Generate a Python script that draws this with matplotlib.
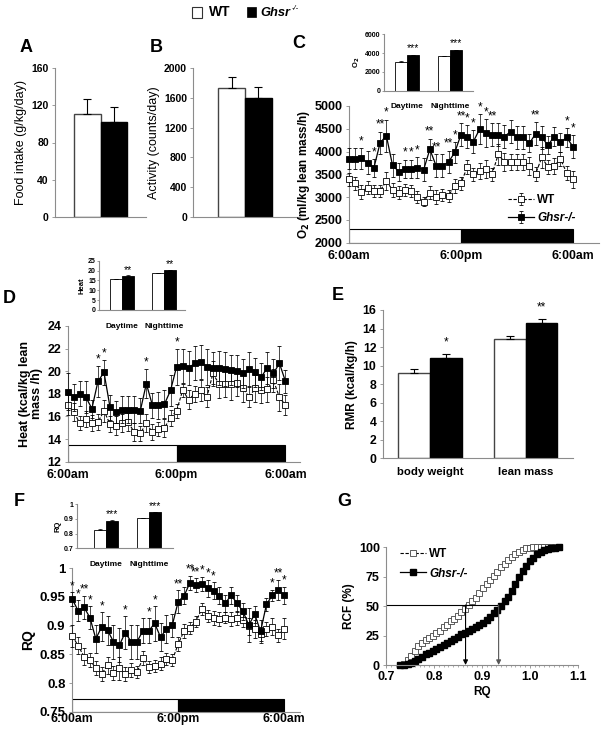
import numpy as np
import matplotlib
matplotlib.use('Agg')
import matplotlib.pyplot as plt
from matplotlib.patches import Rectangle
from matplotlib.ticker import MultipleLocator

plt.rcParams['font.family'] = ['Liberation Sans', 'DejaVu Sans']
plt.rcParams['font.weight'] = 'bold'

W, H = 607, 733

# ---- data ----
# A / B: daily totals (WT, Ghsr-/-)
food_mean = [110, 102]
food_err = [16, 16]
activity_mean = [1724, 1590]
activity_err = [156, 156]

# time points: 37 samples, 6:00am -> 6:00am (40 min apart)
time_labels = ['6:00am', '6:00pm', '6:00am']
time_label_idx = [0, 18, 36]
light_start, dark_start, dark_end = 0, 18, 36

# C: O2 consumption
o2_wt = [3390, 3300, 3120, 3210, 3130, 3140, 3350, 3160, 3100, 3150, 3130, 3000,
         2900, 3100, 3000, 3040, 3030, 3250, 3300, 3660, 3500, 3570, 3620, 3500,
         3940, 3770, 3770, 3770, 3770, 3680, 3510, 3870, 3660, 3680, 3840, 3530, 3390]
o2_wt_err = [150, 150, 150, 150, 130, 130, 200, 150, 150, 130, 130, 130, 100, 150,
             150, 130, 130, 150, 150, 150, 150, 180, 200, 150, 230, 200, 180, 180,
             180, 200, 150, 220, 150, 180, 150, 150, 180]
o2_ko = [3840, 3840, 3850, 3755, 3640, 4190, 4350, 3700, 3560, 3620, 3620, 3650,
         3600, 4050, 3690, 3690, 3770, 3980, 4370, 4330, 4220, 4490, 4410, 4370,
         4370, 4330, 4440, 4310, 4310, 4180, 4390, 4310, 4140, 4330, 4200, 4310, 4110]
o2_ko_err = [230, 230, 230, 250, 200, 250, 350, 250, 200, 200, 200, 230, 250, 230,
             250, 250, 250, 230, 250, 250, 250, 330, 300, 250, 250, 250, 250, 250,
             250, 200, 250, 250, 200, 200, 200, 200, 250]
o2_stars = ['', '', '*', '', '*', '**', '*', '', '', '*', '*', '*', '', '**', '**', '',
            '**', '*', '**', '*', '*', '*', '*', '**', '', '', '', '', '', '', '**',
            '', '', '', '', '*', '*']
o2_period = [[3100, 3780], [3700, 4330]]   # daytime / nighttime: WT, Ghsr
o2_period_err = [[40, 40], [30, 30]]
o2_period_stars = ['***', '***']

# D: heat
heat_wt = [17.0, 16.4, 15.4, 15.8, 15.4, 15.5, 16.5, 15.3, 15.2, 15.4, 15.5, 14.6,
           14.5, 15.4, 14.6, 14.9, 15.0, 15.9, 16.5, 18.3, 17.5, 18.0, 18.3, 17.7,
           19.8, 18.9, 18.9, 18.9, 19.0, 18.5, 17.7, 18.5, 18.3, 18.4, 19.2, 17.7, 17.0]
heat_wt_err = [0.9, 0.8, 0.6, 0.7, 0.7, 0.7, 1.0, 0.7, 0.8, 0.8, 0.8, 0.8, 0.7,
               0.8, 0.7, 0.6, 0.8, 0.7, 0.6, 0.6, 0.8, 0.7, 0.9, 0.9, 1.1, 1.3,
               1.2, 1.4, 1.2, 1.2, 0.9, 1.2, 1.1, 1.1, 1.0, 1.2, 0.9]
heat_ko = [18.2, 17.7, 18.0, 17.7, 16.7, 19.1, 19.9, 16.8, 16.4, 16.6, 16.6, 16.6,
           16.5, 18.9, 17.0, 17.0, 17.1, 18.3, 20.4, 20.5, 20.3, 20.7, 20.8, 20.4,
           20.3, 20.3, 20.2, 20.1, 20.0, 19.8, 20.2, 19.9, 19.5, 20.3, 19.8, 20.7, 19.1]
heat_ko_err = [1.6, 1.2, 1.1, 1.4, 0.8, 1.4, 1.1, 1.1, 1.0, 1.2, 1.2, 1.2, 1.1,
               1.3, 1.1, 1.2, 1.2, 1.4, 1.6, 1.5, 1.5, 1.5, 1.5, 1.6, 1.4, 1.5,
               1.5, 1.3, 1.4, 1.3, 1.5, 1.3, 1.2, 1.4, 1.3, 1.5, 1.0]
heat_stars = ['', '', '', '', '', '*', '*', '', '', '', '', '', '', '*', '', '', '',
              '', '*', '', '', '', '', '', '', '', '', '', '', '', '', '', '', '', '', '', '']
heat_period = [[15.5, 17.4], [18.6, 20.1]]
heat_period_err = [[0.2, 0.2], [0.2, 0.2]]
heat_period_stars = ['**', '**']

# E: resting metabolic rate
rmr_groups = ['body weight', 'lean mass']
rmr_wt = [9.2, 12.85]
rmr_wt_err = [0.45, 0.35]
rmr_ko = [10.8, 14.55]
rmr_ko_err = [0.45, 0.45]
rmr_stars = ['*', '**']

# F: respiratory quotient
rq_wt = [0.882, 0.865, 0.846, 0.840, 0.826, 0.816, 0.831, 0.817, 0.826, 0.816,
         0.823, 0.819, 0.843, 0.828, 0.830, 0.834, 0.842, 0.840, 0.868, 0.891,
         0.896, 0.907, 0.929, 0.917, 0.914, 0.912, 0.914, 0.912, 0.913, 0.909,
         0.899, 0.894, 0.885, 0.894, 0.898, 0.883, 0.895]
rq_wt_err = [0.02, 0.015, 0.015, 0.012, 0.012, 0.012, 0.015, 0.012, 0.02, 0.012,
             0.012, 0.01, 0.012, 0.01, 0.01, 0.012, 0.01, 0.01, 0.012, 0.012, 0.01,
             0.01, 0.01, 0.01, 0.012, 0.012, 0.01, 0.012, 0.012, 0.012, 0.015,
             0.015, 0.012, 0.012, 0.015, 0.012, 0.018]
rq_ko = [0.946, 0.926, 0.932, 0.914, 0.877, 0.898, 0.892, 0.872, 0.866, 0.888,
         0.872, 0.872, 0.891, 0.891, 0.904, 0.880, 0.894, 0.901, 0.942, 0.952,
         0.975, 0.971, 0.973, 0.965, 0.961, 0.952, 0.939, 0.953, 0.939, 0.925,
         0.901, 0.920, 0.890, 0.937, 0.953, 0.962, 0.953]
rq_ko_err = [0.012, 0.018, 0.02, 0.02, 0.025, 0.025, 0.025, 0.03, 0.03, 0.028,
             0.03, 0.03, 0.022, 0.022, 0.03, 0.025, 0.025, 0.02, 0.02, 0.015,
             0.012, 0.012, 0.012, 0.015, 0.015, 0.015, 0.015, 0.015, 0.015,
             0.015, 0.03, 0.015, 0.02, 0.012, 0.01, 0.018, 0.015]
rq_stars = ['*', '*', '**', '*', '', '*', '', '', '', '*', '', '', '', '*', '*', '',
            '', '', '**', '', '**', '**', '*', '*', '*', '', '', '', '', '', '', '',
            '', '', '*', '**', '*']
rq_period = [[0.828, 0.889], [0.908, 0.945]]
rq_period_err = [[0.002, 0.002], [0.002, 0.002]]
rq_period_stars = ['***', '***']

# G: relative cumulative frequency of RQ
rcf_rq = np.arange(45) * 0.0075 + 0.73
rcf_wt = [0, 1, 4, 8, 12, 16, 19, 21, 23, 25, 27, 29, 32, 34, 37, 39, 42, 45, 48,
          51, 54, 57, 61, 65, 69, 72, 76, 79, 83, 86, 89, 92, 94, 96, 98, 99,
          99.5, 100, 100, 100, 100, 100, 100, 100, 100]
rcf_ko = [0, 0.3, 0.8, 1.5, 3, 5, 7, 9, 10.5, 12, 14, 15.5, 17, 18.5, 20, 22, 24,
          26, 27.5, 29, 30.5, 32, 34, 36, 38.5, 41, 44, 47, 50.5, 54, 58, 63, 69,
          75, 80, 84, 88, 91, 94, 96, 97.5, 98.5, 99.2, 99.7, 100]
rcf_half = 51
rq_half_wt, rq_half_ko = 0.866, 0.935

period_labels = ['Daytime', 'Nighttime']

AXIS_GREY = '#8c8c8c'

fig = plt.figure(figsize=(W / 100, H / 100), dpi=100, facecolor='white')


def add_ax(left, top, right, bottom):
    """Axes placed by pixel box of the 607x733 canvas."""
    return fig.add_axes([left / W, 1 - bottom / H, (right - left) / W, (bottom - top) / H])


def style(ax, size=7):
    for s in ('top', 'right'):
        ax.spines[s].set_visible(False)
    for s in ('left', 'bottom'):
        ax.spines[s].set_color(AXIS_GREY)
        ax.spines[s].set_linewidth(0.8)
    ax.tick_params(axis='both', colors='black', labelsize=size, length=2.5,
                   width=0.6, pad=2)
    ax.tick_params(axis='both', color=AXIS_GREY)
    for lab in ax.get_xticklabels() + ax.get_yticklabels():
        lab.set_fontweight('bold')


def two_bars(ax, means, errs, width=1.0):
    ax.bar([0, 1], means, width=width, color=['white', 'black'],
           edgecolor=['#444444', 'black'], linewidth=1.0,
           yerr=[[0, 0], errs], error_kw=dict(ecolor='black', elinewidth=0.8,
                                               capsize=3, capthick=0.8))
    ax.set_xticks([])


def period_inset(ax, vals, errs, stars, ylim, yticks, ylabel, xlim, ypad):
    w = 0.28
    base = ylim[0]
    for g, (v, e) in enumerate(zip(vals, errs)):
        ax.bar([g - w / 2, g + w / 2], [v[0] - base, v[1] - base], width=w,
               bottom=base, color=['white', 'black'], edgecolor='black', linewidth=0.6,
               yerr=[[0, 0], e], error_kw=dict(ecolor='black', elinewidth=0.5,
                                                capsize=1.2, capthick=0.5))
    for g, s in enumerate(stars):
        ax.text(g + w / 2, vals[g][1] + errs[g][1] + ypad, s, ha='center',
                va='bottom', fontsize=7.5, fontweight='normal')
    ax.set_ylim(*ylim)
    ax.set_xlim(*xlim)
    ax.set_yticks(yticks)
    ax.set_xticks([0, 1])
    ax.set_xticklabels(period_labels)
    style(ax, size=5)
    ax.tick_params(axis='x', length=0, pad=9, labelsize=6)
    ax.tick_params(axis='y', length=1.5, pad=1)
    ax.set_ylabel(ylabel, fontsize=5.5, labelpad=2, fontweight='bold')


def time_panel(ax, wt, wt_err, ko, ko_err, stars, period_box, star_pad):
    x = np.arange(len(wt))
    ax.errorbar(x, wt, yerr=wt_err, color='black', lw=0.8, ls=(0, (3, 1.5)),
                marker='s', ms=3.8, mfc='white', mec='black', mew=0.6,
                ecolor='black', elinewidth=0.5, capsize=1.5, capthick=0.5,
                clip_on=False, zorder=3, label='WT')
    ax.errorbar(x, ko, yerr=ko_err, color='black', lw=0.9, ls='-',
                marker='s', ms=3.8, mfc='black', mec='black', mew=0.6,
                ecolor='black', elinewidth=0.5, capsize=1.5, capthick=0.5,
                clip_on=False, zorder=4, label='Ghsr-/-')
    for i, s in enumerate(stars):
        if s:
            ax.text(i, ko[i] + ko_err[i] + star_pad, s, ha='center', va='bottom',
                    fontsize=8.5, fontweight='normal')
    y0, y1 = period_box
    ax.bar([light_start, dark_start], [y1 - y0, y1 - y0], bottom=y0,
           width=[dark_start - light_start, dark_end - dark_start], align='edge',
           color=['white', 'black'], edgecolor='black', linewidth=0.8, zorder=2)
    ax.set_xticks(time_label_idx)
    ax.set_xticklabels(time_labels)
    style(ax, size=9)
    ax.tick_params(axis='x', length=0, pad=5, labelsize=8.8)


# ---- top legend ----
fig.add_artist(Rectangle((192 / W, 1 - 18 / H), 10 / W, 11 / H, transform=fig.transFigure,
                         facecolor='white', edgecolor='#333333', lw=0.8))
fig.text(209 / W, 1 - 12.5 / H, 'WT', fontsize=10, fontweight='bold', va='center')
fig.add_artist(Rectangle((247 / W, 1 - 17 / H), 8.5 / W, 9.5 / H, transform=fig.transFigure,
                         facecolor='black', edgecolor='black', lw=0.5))
fig.text(260 / W, 1 - 12.5 / H, 'Ghsr', fontsize=9.3, fontweight='bold', style='italic',
         va='center')
fig.text(292 / W, 1 - 9 / H, '-/-', fontsize=5.5, style='italic', va='center',
         fontweight='normal')

# ---- panel letters ----
for letter, px, py in [('A', 20, 47), ('B', 150, 47), ('C', 292, 43), ('D', 3, 298),
                       ('E', 332, 296), ('F', 14, 501), ('G', 337, 502)]:
    fig.text(px / W, 1 - py / H, letter, fontsize=13, fontweight='bold', va='center')

# ---- A ----
axA = add_ax(55, 67.7, 146, 217.3)
two_bars(axA, food_mean, food_err)
axA.set_xlim(-1.21, 2.2)
axA.set_ylim(0, 160)
axA.set_yticks([0, 40, 80, 120, 160])
style(axA, size=7.5)
axA.set_ylabel('Food intake (g/kg/day)', fontsize=9, fontweight='normal', labelpad=3)

# ---- B ----
axB = add_ax(193.3, 67.7, 300, 217.3)
two_bars(axB, activity_mean, activity_err)
axB.set_xlim(-1.44, 2.57)
axB.set_ylim(0, 2000)
axB.set_yticks([0, 400, 800, 1200, 1600, 2000])
style(axB, size=7.5)
axB.set_ylabel('Activity (counts/day)', fontsize=9, fontweight='normal', labelpad=3)

# ---- C ----
axC = add_ax(349, 106, 599, 242.7)
time_panel(axC, o2_wt, o2_wt_err, o2_ko, o2_ko_err, o2_stars, (2000, 2290), 20)
axC.set_xlim(0, 40.2)
axC.set_ylim(2000, 5000)
axC.set_yticks(np.arange(2000, 5001, 500))
axC.set_ylabel('O$_2$ (ml/kg lean mass/h)', fontsize=8.5, fontweight='bold', labelpad=2)
legC = axC.legend(loc='lower right', bbox_to_anchor=(0.93, 0.09), frameon=False,
                  fontsize=8.5, handlelength=2.2, handletextpad=0.3, labelspacing=0.55,
                  borderpad=0)
for t in legC.get_texts():
    t.set_fontweight('bold')
legC.get_texts()[1].set_style('italic')

axCi = add_ax(384, 34.3, 473, 90.7)
period_inset(axCi, o2_period, o2_period_err, o2_period_stars, (0, 6000),
             [0, 2000, 4000, 6000], 'O$_2$', (-0.524, 1.531), 150)

# ---- D ----
axD = add_ax(67.7, 326, 300, 461.7)
time_panel(axD, heat_wt, heat_wt_err, heat_ko, heat_ko_err, heat_stars, (12, 13.5), 0.05)
axD.set_xlim(0, 38.4)
axD.set_ylim(12, 24)
axD.set_yticks(np.arange(12, 25, 2))
axD.set_ylabel('Heat (kcal/kg lean\nmass /h)', fontsize=9, fontweight='bold',
               labelpad=3, linespacing=1.0)

axDi = add_ax(99.3, 260.7, 185, 310)
period_inset(axDi, heat_period, heat_period_err, heat_period_stars, (0, 25),
             [0, 5, 10, 15, 20, 25], 'Heat', (-0.526, 1.486), 0.3)

# ---- E ----
axE = add_ax(382.7, 310, 573, 458.3)
bw = 0.33
gx = np.arange(len(rmr_groups))
axE.bar(gx - bw / 2, rmr_wt, width=bw, color='white', edgecolor='#444444', lw=1.0,
        yerr=[[0, 0], rmr_wt_err], error_kw=dict(ecolor='black', elinewidth=0.8,
                                                  capsize=3, capthick=0.8))
axE.bar(gx + bw / 2, rmr_ko, width=bw, color='black', edgecolor='black', lw=1.0,
        yerr=[[0, 0], rmr_ko_err], error_kw=dict(ecolor='black', elinewidth=0.8,
                                                  capsize=3, capthick=0.8))
for g, s in enumerate(rmr_stars):
    axE.text(g + bw / 2, rmr_ko[g] + rmr_ko_err[g] + 0.6, s, ha='center', va='bottom',
             fontsize=8.5, fontweight='normal')
axE.set_xlim(-0.494, 1.494)
axE.set_ylim(0, 16)
axE.set_yticks(np.arange(0, 17, 2))
axE.set_xticks(gx)
axE.set_xticklabels(rmr_groups)
style(axE, size=8.8)
axE.tick_params(axis='x', length=0, pad=6, labelsize=8.2)
axE.set_ylabel('RMR (kcal/kg/h)', fontsize=8.5, fontweight='bold', labelpad=3)

# ---- F ----
axF = add_ax(71.7, 568.3, 300, 711.7)
time_panel(axF, rq_wt, rq_wt_err, rq_ko, rq_ko_err, rq_stars, (0.75, 0.773), 0.0)
axF.set_xlim(-0.1, 38.7)
axF.set_ylim(0.75, 1.0)
axF.set_yticks([0.75, 0.8, 0.85, 0.9, 0.95, 1.0])
axF.set_yticklabels(['0.75', '0.8', '0.85', '0.9', '0.95', '1'])
axF.tick_params(axis='y', labelsize=9.5)
axF.tick_params(axis='x', pad=1)
axF.set_ylabel('RQ', fontsize=10, fontweight='bold', labelpad=3)

axFi = add_ax(77.3, 504.3, 173, 548.3)
period_inset(axFi, rq_period, rq_period_err, rq_period_stars, (0.7, 1.0),
             [0.7, 0.8, 0.9, 1.0], 'RQ', (-0.667, 1.558), 0.005)
axFi.set_yticklabels(['0.7', '0.8', '0.9', '1'])

# ---- G ----
axG = add_ax(386, 547.3, 577.7, 665)
axG.plot(rcf_rq, rcf_wt, color='black', lw=0.8, ls=(0, (3, 1.5)), marker='s', ms=3.8,
         mfc='white', mec='#444444', mew=0.6, label='WT', clip_on=False)
axG.plot(rcf_rq, rcf_ko, color='black', lw=0.9, marker='s', ms=3.8, mfc='black',
         mec='black', label='Ghsr-/-', clip_on=False)
axG.plot([0.7, rq_half_ko], [rcf_half, rcf_half], color='black', lw=0.8)
axG.annotate('', xy=(rq_half_wt, 0), xytext=(rq_half_wt, rcf_half),
             arrowprops=dict(arrowstyle='-|>', color='black', lw=0.8, mutation_scale=7,
                             shrinkA=0, shrinkB=0))
axG.annotate('', xy=(rq_half_ko, 0), xytext=(rq_half_ko, rcf_half),
             arrowprops=dict(arrowstyle='-|>', color='#555555', lw=0.8, mutation_scale=7,
                             shrinkA=0, shrinkB=0))
axG.set_xlim(0.7, 1.1)
axG.set_ylim(0, 100)
axG.set_xticks([0.7, 0.8, 0.9, 1.0, 1.1])
axG.set_xticklabels(['0.7', '0.8', '0.9', '1.0', '1.1'])
axG.set_yticks([0, 25, 50, 75, 100])
axG.xaxis.set_minor_locator(MultipleLocator(0.01))
style(axG, size=9)
axG.tick_params(axis='x', which='minor', length=1.5, color=AXIS_GREY, width=0.5)
axG.set_xlabel('RQ', fontsize=8.5, fontweight='bold', labelpad=2)
axG.set_ylabel('RCF (%)', fontsize=8.5, fontweight='bold', labelpad=3)
legG = axG.legend(loc='upper left', bbox_to_anchor=(0.04, 1.04), frameon=False,
                  fontsize=8.5, handlelength=2.2, handletextpad=0.3, labelspacing=0.6,
                  borderpad=0)
for t in legG.get_texts():
    t.set_fontweight('bold')
legG.get_texts()[1].set_style('italic')

fig.savefig('out.png', dpi=100, facecolor='white')
